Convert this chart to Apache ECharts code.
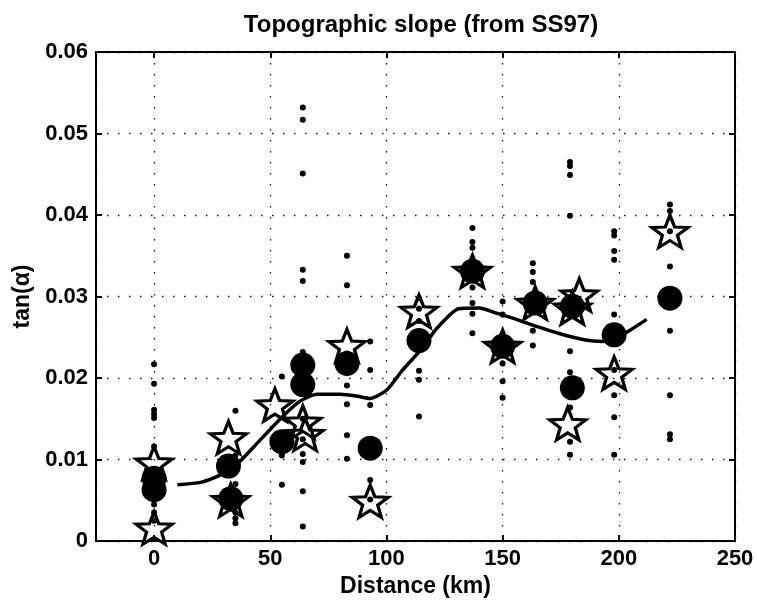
<!DOCTYPE html>
<html>
<head>
<meta charset="utf-8">
<script src="https://cdn.jsdelivr.net/npm/echarts@6/dist/echarts.min.js"></script>
<style>html,body{margin:0;padding:0;background:#fff}#c{width:757px;height:603px}</style>
</head>
<body>
<div id="c"></div>
<script>
// ---- data ----
const xTicks = [0, 50, 100, 150, 200, 250];
const yTicks = [0, 0.01, 0.02, 0.03, 0.04, 0.05, 0.06];

// smoothed profile (solid line)
const lineX = [10, 20, 27, 32, 37, 45, 55, 63, 70, 80, 87, 93, 100, 107, 114, 122, 131, 140, 148, 155, 165, 175, 185, 193, 198, 205, 212];
const lineY = [0.0069, 0.0072, 0.0079, 0.0087, 0.0098, 0.0122, 0.0152, 0.0172, 0.0180, 0.0180, 0.0178, 0.0175, 0.0185, 0.0210, 0.0232, 0.0262, 0.0285, 0.0286, 0.0279, 0.0273, 0.0263, 0.0254, 0.0247, 0.0245, 0.0248, 0.0259, 0.0272];

// large filled circles
const circX = [0, 0, 32, 33, 55, 64, 64, 83, 93, 114, 137, 150, 164, 180, 180, 198, 222];
const circY = [0.0077, 0.0063, 0.0092, 0.0052, 0.0122, 0.0216, 0.0192, 0.0218, 0.0114, 0.0246, 0.0331, 0.0239, 0.0292, 0.0288, 0.0188, 0.0253, 0.0298];

// open pentagrams
const starX = [0, 0, 32, 33, 52, 64, 65, 83, 93, 114, 137, 150, 164, 180, 183, 178, 198, 222];
const starY = [0.0096, 0.0016, 0.0127, 0.0050, 0.0167, 0.0146, 0.0131, 0.0240, 0.0049, 0.0282, 0.0331, 0.0239, 0.0292, 0.0286, 0.0302, 0.0144, 0.0206, 0.0380];

// small dots (individual measurements), by column
const dotX = [0, 35, 55, 64, 83, 93, 114, 137, 150, 163, 179, 198, 222];
const dotY = [
  [0.0217, 0.0193, 0.0161, 0.0156, 0.0151, 0.0116, 0.0088, 0.0072, 0.0058, 0.0045, 0.0035, 0.0025],
  [0.0160, 0.0105, 0.0070, 0.0045, 0.0035, 0.0028, 0.0022],
  [0.0202, 0.0130, 0.0115, 0.0105, 0.0069],
  [0.0532, 0.0517, 0.0451, 0.0333, 0.0319, 0.0232, 0.0215, 0.0190, 0.0150, 0.0125, 0.0107, 0.0097, 0.0061, 0.0018],
  [0.0350, 0.0314, 0.0230, 0.0215, 0.0191, 0.0168, 0.0130, 0.0101],
  [0.0245, 0.0210, 0.0167, 0.0113, 0.0075, 0.0051],
  [0.0298, 0.0285, 0.0270, 0.0250, 0.0209, 0.0198, 0.0153],
  [0.0384, 0.0367, 0.0360, 0.0330, 0.0311, 0.0292, 0.0279, 0.0255],
  [0.0294, 0.0278, 0.0240, 0.0232, 0.0218, 0.0196, 0.0176],
  [0.0341, 0.0330, 0.0318, 0.0295, 0.0285, 0.0258, 0.0240],
  [0.0465, 0.0460, 0.0449, 0.0399, 0.0295, 0.0280, 0.0233, 0.0207, 0.0185, 0.0164, 0.0122, 0.0106],
  [0.0380, 0.0375, 0.0356, 0.0345, 0.0278, 0.0250, 0.0210, 0.0179, 0.0152, 0.0106],
  [0.0413, 0.0405, 0.0380, 0.0337, 0.0298, 0.0258, 0.0179, 0.0131, 0.0125]
];

// ---- build series data ----
const zip = (xs, ys) => xs.map((x, i) => [x, ys[i]]);
const lineData = zip(lineX, lineY);
const circData = zip(circX, circY);
const starData = zip(starX, starY);
const dotData = [];
dotX.forEach((x, i) => dotY[i].forEach(y => dotData.push([x, y])));

const STAR = 'path://M100 0 L124.7 66 L195.1 69.1 L139.9 113 L158.8 180.9 L100 142 L41.2 180.9 L60.1 113 L4.9 69.1 L75.3 66 Z';
const FONT = '"Liberation Sans", Arial, Helvetica, sans-serif';

const gridDash = { color: '#111', width: 1.3, type: [1.5, 9.5] };
const lbl = { color: '#000', fontFamily: FONT, fontWeight: 'bold', fontSize: 22 };

const chart = echarts.init(document.getElementById('c'), null, { renderer: 'canvas' });
chart.setOption({
  backgroundColor: '#fff',
  animation: false,
  title: {
    text: 'Topographic slope (from SS97)',
    left: 416, top: 8, textAlign: 'center',
    textStyle: { color: '#000', fontFamily: FONT, fontWeight: 'bold', fontSize: 24 }
  },
  grid: { left: 96, right: 22, top: 52, bottom: 58, containLabel: false },
  xAxis: [{
    type: 'value', min: -25, max: 250, splitNumber: 5, position: 'bottom',
    name: 'Distance (km)', nameLocation: 'middle', nameGap: 28,
    nameTextStyle: { color: '#000', fontFamily: FONT, fontWeight: 'bold', fontSize: 23 },
    axisLine: { show: true, onZero: false, lineStyle: { color: '#000', width: 2 } },
    axisTick: { show: true, inside: true, length: 6, lineStyle: { color: '#000', width: 2 } },
    axisLabel: Object.assign({ margin: 7, formatter: v => (xTicks.indexOf(v) >= 0 ? String(v) : '') }, lbl),
    splitLine: { show: true, lineStyle: gridDash }
  }, {
    type: 'value', min: -25, max: 250, splitNumber: 5, position: 'top',
    axisLine: { show: true, onZero: false, lineStyle: { color: '#000', width: 2 } },
    axisTick: { show: true, inside: true, length: 6, lineStyle: { color: '#000', width: 2 } },
    axisLabel: { show: false }, splitLine: { show: false }
  }],
  yAxis: [{
    type: 'value', min: 0, max: 0.06, interval: 0.01, position: 'left',
    name: 'tan(α)', nameLocation: 'middle', nameGap: 62,
    nameTextStyle: { color: '#000', fontFamily: FONT, fontWeight: 'bold', fontSize: 23 },
    axisLine: { show: true, onZero: false, lineStyle: { color: '#000', width: 2 } },
    axisTick: { show: true, inside: true, length: 6, lineStyle: { color: '#000', width: 2 } },
    axisLabel: Object.assign({ margin: 8, formatter: v => (Math.abs(v) < 1e-9 ? '0' : v.toFixed(2)) }, lbl),
    splitLine: { show: true, lineStyle: gridDash }
  }, {
    type: 'value', min: 0, max: 0.06, interval: 0.01, position: 'right',
    axisLine: { show: true, onZero: false, lineStyle: { color: '#000', width: 2 } },
    axisTick: { show: true, inside: true, length: 6, lineStyle: { color: '#000', width: 2 } },
    axisLabel: { show: false }, splitLine: { show: false }
  }],
  series: [
    {
      name: 'stars', type: 'scatter', data: starData, symbol: STAR, symbolSize: [36, 34], symbolKeepAspect: true,
      itemStyle: { color: 'rgba(0,0,0,0)', borderColor: '#000', borderWidth: 3.2, opacity: 1 }, z: 2, silent: true
    },
    {
      name: 'line', type: 'line', data: lineData, showSymbol: false, smooth: 0.2,
      lineStyle: { color: '#000', width: 3.5, opacity: 1 }, z: 3, silent: true
    },
    {
      name: 'circles', type: 'scatter', data: circData, symbol: 'circle', symbolSize: 25,
      itemStyle: { color: '#000', opacity: 1 }, z: 4, silent: true
    },
    {
      name: 'dots', type: 'scatter', data: dotData, symbol: 'circle', symbolSize: 6,
      itemStyle: { color: '#000', opacity: 1 }, z: 5, silent: true
    }
  ]
});
</script>
</body>
</html>
